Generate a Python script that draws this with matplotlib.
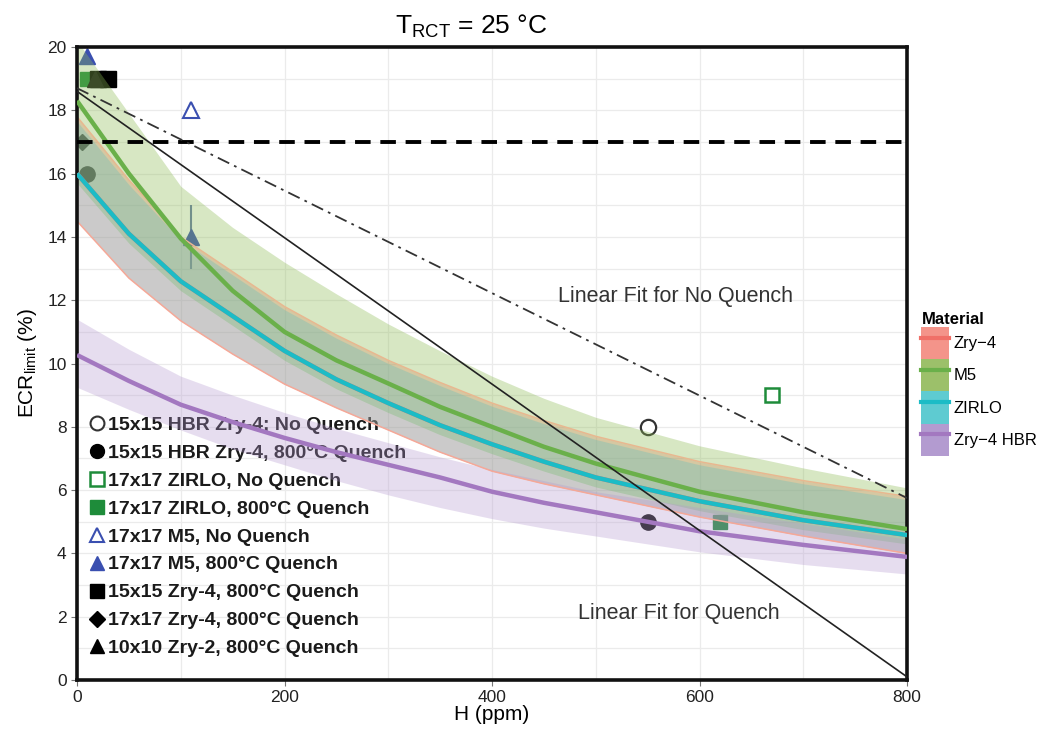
import numpy as np
import matplotlib
matplotlib.use("Agg")
import matplotlib.pyplot as plt
from matplotlib.lines import Line2D
from matplotlib.patches import Patch

plt.rcParams["font.family"] = ["Liberation Sans", "DejaVu Sans"]

# fitted curves and confidence bands
H_fit = [0, 50, 100, 150, 200, 250, 300, 350, 400, 450, 500, 600, 700, 800]
zry4_fit = [16.0, 14.1, 12.6, 11.5, 10.4, 9.5, 8.75, 8.05, 7.45, 6.9, 6.4, 5.65, 5.05, 4.58]
zry4_lo = [14.5, 12.7, 11.35, 10.3, 9.35, 8.6, 7.9, 7.2, 6.6, 6.2, 5.85, 5.15, 4.55, 4.0]
zry4_hi = [17.8, 15.8, 14.0, 12.9, 11.8, 10.9, 10.1, 9.4, 8.75, 8.2, 7.7, 6.9, 6.3, 5.8]
m5_fit = [18.3, 16.0, 13.95, 12.3, 11.0, 10.1, 9.37, 8.63, 8.0, 7.37, 6.84, 5.95, 5.3, 4.77]
m5_lo = [15.7, 13.8, 12.3, 11.2, 10.1, 9.2, 8.45, 7.75, 7.15, 6.6, 6.1, 5.35, 4.75, 4.3]
m5_hi = [20.2, 17.9, 15.6, 14.3, 13.2, 12.2, 11.25, 10.4, 9.6, 8.9, 8.3, 7.4, 6.7, 6.07]
zirlo_fit = [16.0, 14.1, 12.6, 11.5, 10.4, 9.5, 8.75, 8.05, 7.45, 6.9, 6.4, 5.65, 5.05, 4.58]
zirlo_lo = [14.5, 12.7, 11.35, 10.3, 9.35, 8.6, 7.9, 7.2, 6.6, 6.2, 5.85, 5.15, 4.55, 4.0]
zirlo_hi = [17.65, 15.65, 13.9, 12.8, 11.7, 10.8, 10.0, 9.3, 8.65, 8.1, 7.6, 6.8, 6.2, 5.7]
hbr_fit = [10.27, 9.45, 8.7, 8.15, 7.65, 7.2, 6.8, 6.4, 5.95, 5.6, 5.3, 4.7, 4.27, 3.89]
hbr_lo = [9.25, 8.55, 7.9, 7.3, 6.8, 6.3, 5.85, 5.45, 5.1, 4.8, 4.55, 4.05, 3.65, 3.35]
hbr_hi = [11.4, 10.45, 9.6, 9.0, 8.45, 7.95, 7.5, 7.05, 6.65, 6.3, 5.95, 5.45, 4.95, 4.45]

materials = ["Zry\u22124", "M5", "ZIRLO", "Zry\u22124 HBR"]
line_colors = ["#F07068", "#6AB04A", "#1CBCC6", "#A378C0"]
fill_colors = ["#F8766D", "#8DBB55", "#3BBFC6", "#B497D0"]
legend_box_colors = ["#F4948A", "#9CC06A", "#5ECBD1", "#B39BD0"]

# test data points
hbr_nq_H, hbr_nq_E = [550], [8]
hbr_q_H, hbr_q_E = [550, 10], [5, 16]
zirlo_nq_H, zirlo_nq_E = [670], [9]
zirlo_q_H, zirlo_q_E = [620, 10], [5, 19]
m5_nq_H, m5_nq_E = [110], [18]
m5_q_H, m5_q_E, m5_q_err = [110, 10], [14, 19.72], [1.0, 0.0]
zry4_15_H, zry4_15_E = [20, 30], [19, 19]
zry4_17_H, zry4_17_E = [5], [17]
zry2_H, zry2_E = [17], [19]

# linear fits (end points)
lin_q_H, lin_q_E = [0, 800], [18.6, 0.1]
lin_nq_H, lin_nq_E = [0, 800], [18.7, 5.75]
limit_E = 17

fig = plt.figure(figsize=(10.52, 7.37), dpi=100)
ax = fig.add_axes([0.0732, 0.0773, 0.7890, 0.8589])

# points go under the ribbons
kw = dict(ls="none", zorder=1.6, clip_on=True)
ax.plot(hbr_nq_H, hbr_nq_E, marker="o", ms=11, mfc="white", mec="#333333", mew=1.6, **kw)
ax.plot(hbr_q_H, hbr_q_E, marker="o", ms=11, mfc="#111111", mec="#111111", **kw)
ax.plot(zirlo_nq_H, zirlo_nq_E, marker="s", ms=10, mfc="white", mec="#1E8C3A", mew=1.8, **kw)
ax.plot(zirlo_q_H, zirlo_q_E, marker="s", ms=10, mfc="#1E8C3A", mec="#1E8C3A", **kw)
ax.plot(m5_nq_H, m5_nq_E, marker="^", ms=11, mfc="white", mec="#3A4FB0", mew=1.5, **kw)
ax.errorbar(m5_q_H, m5_q_E, yerr=m5_q_err, fmt="^", ms=11, mfc="#3A4FB0", mec="#3A4FB0",
            ecolor="#6478A8", elinewidth=1.5, zorder=1.6)
ax.plot(zry4_15_H, zry4_15_E, marker="s", ms=12, mfc="#000000", mec="#000000", **kw)
ax.plot(zry4_17_H, zry4_17_E, marker="D", ms=8, mfc="#111111", mec="#111111", **kw)
ax.plot(zry2_H, zry2_E, marker="^", ms=12, mfc="#111111", mec="#111111", **kw)

# ribbons and fitted lines
bands = [(zry4_lo, zry4_hi, zry4_fit), (m5_lo, m5_hi, m5_fit),
         (zirlo_lo, zirlo_hi, zirlo_fit), (hbr_lo, hbr_hi, hbr_fit)]
alphas = [0.35, 0.35, 0.25, 0.32]
for (lo, hi, fit), fc, a in zip(bands, fill_colors, alphas):
    ax.fill_between(H_fit, lo, hi, color=fc, alpha=a, lw=0, zorder=2)
# Zry-4 ribbon has a thin outline
ax.plot(H_fit, zry4_lo, color="#F5A898", lw=1.1, zorder=2.1)
ax.plot(H_fit, zry4_hi, color="#E8B890", lw=1.1, zorder=2.1)
for (lo, hi, fit), lc in zip(bands, line_colors):
    ax.plot(H_fit, fit, color=lc, lw=3.2, zorder=3, solid_capstyle="butt")

# reference lines
ax.axhline(limit_E, color="black", lw=2.8, ls=(0, (4, 2.5)), zorder=4)
ax.plot(lin_q_H, lin_q_E, color="#222222", lw=1.2, zorder=4)
ax.plot(lin_nq_H, lin_nq_E, color="#333333", lw=1.3, ls=(0, (7, 3, 1.5, 3)), zorder=4)
ax.text(577, 12.13, "Linear Fit for No Quench", fontsize=15.5, color="#333333",
        ha="center", va="center", zorder=4)
ax.text(580, 2.1, "Linear Fit for Quench", fontsize=15.5, color="#333333",
        ha="center", va="center", zorder=4)

ax.set_xlim(0, 800)
ax.set_ylim(0, 20)
ax.set_xticks(np.arange(0, 801, 200))
ax.set_xticks(np.arange(100, 800, 200), minor=True)
ax.set_yticks(np.arange(0, 21, 2))
ax.set_yticks(np.arange(1, 20, 2), minor=True)
ax.grid(True, which="both", color="#EBEBEB", lw=0.9, zorder=0)
ax.set_axisbelow(True)
for s in ax.spines.values():
    s.set_linewidth(2.6)
    s.set_color("#111111")
ax.tick_params(which="major", length=4, color="#777777", labelsize=12.5, labelcolor="#222222")
ax.tick_params(which="minor", length=0)
ax.set_xlabel("H (ppm)", fontsize=15, labelpad=0)
ax.set_ylabel(r"ECR$_{\mathregular{limit}}$ (%)", fontsize=15, labelpad=6)
ax.set_title(r"T$_{\mathregular{RCT}}$ = 25 °C", fontsize=19, pad=10, x=0.475)

# data legend inside the plot, under the ribbons
mk = dict(ls="none", ms=10)
data_handles = [
    Line2D([], [], marker="o", mfc="white", mec="#333333", mew=1.5, **mk),
    Line2D([], [], marker="o", mfc="black", mec="black", **mk),
    Line2D([], [], marker="s", mfc="white", mec="#1E8C3A", mew=1.8, **mk),
    Line2D([], [], marker="s", mfc="#1E8C3A", mec="#1E8C3A", **mk),
    Line2D([], [], marker="^", mfc="white", mec="#3A4FB0", mew=1.5, **mk),
    Line2D([], [], marker="^", mfc="#3A4FB0", mec="#3A4FB0", **mk),
    Line2D([], [], marker="s", mfc="black", mec="black", **mk),
    Line2D([], [], marker="D", mfc="black", mec="black", ls="none", ms=8),
    Line2D([], [], marker="^", mfc="black", mec="black", **mk),
]
data_labels = [
    "15x15 HBR Zry-4; No Quench",
    "15x15 HBR Zry-4, 800°C Quench",
    "17x17 ZIRLO, No Quench",
    "17x17 ZIRLO, 800°C Quench",
    "17x17 M5, No Quench",
    "17x17 M5, 800°C Quench",
    "15x15 Zry-4, 800°C Quench",
    "17x17 Zry-4, 800°C Quench",
    "10x10 Zry-2, 800°C Quench",
]
leg1 = ax.legend(data_handles, data_labels, loc="upper left", bbox_to_anchor=(0.004, 0.432),
                 frameon=False, handlelength=0.7, handletextpad=0.2, labelspacing=0.53,
                 borderpad=0, prop={"weight": "bold", "size": 14}, labelcolor="#1a1a1a")
leg1.set_zorder(1.5)

# material legend outside
mat_handles = [(Patch(facecolor=bc, lw=0), Line2D([], [], color=lc, lw=3))
               for bc, lc in zip(legend_box_colors, line_colors)]
leg2 = fig.legend(mat_handles, materials, loc="upper left", bbox_to_anchor=(0.868, 0.588),
                  frameon=False, handlelength=1.65, handleheight=2.6, handletextpad=0.3,
                  labelspacing=0.0, borderpad=0, title="Material", alignment="left",
                  prop={"size": 12}, title_fontproperties={"weight": "bold", "size": 12})

fig.savefig("out.png", dpi=100)
